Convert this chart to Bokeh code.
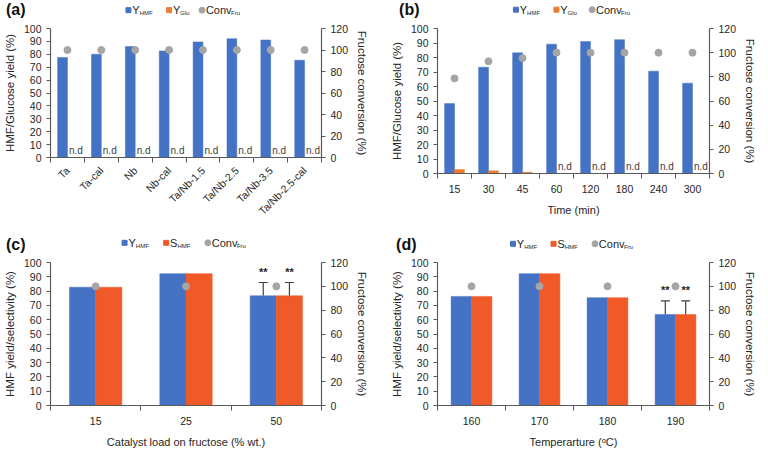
import math
from bokeh.plotting import figure
from bokeh.models import Range1d, LinearAxis, FixedTicker, Whisker, TeeHead, ColumnDataSource
from bokeh.transform import dodge
from bokeh.layouts import column, row
from bokeh.core.properties import value
from bokeh.embed import file_html
from bokeh.resources import INLINE

# ---------------- data ----------------
cats_a = ["Ta", "Ta-cal", "Nb", "Nb-cal", "Ta/Nb-1.5", "Ta/Nb-2.5", "Ta/Nb-3.5", "Ta/Nb-2.5-cal"]
yhmf_a = [77.5, 80.0, 86.0, 82.6, 89.6, 92.1, 91.1, 75.4]
yglu_a = [0, 0, 0, 0, 0, 0, 0, 0]
conv_a = [100, 100, 100, 100, 100, 100, 100, 100]

cats_b = ["15", "30", "45", "60", "120", "180", "240", "300"]
yhmf_b = [48.2, 73.3, 83.2, 89.2, 91.0, 92.3, 70.6, 62.3]
yglu_b = [2.8, 1.9, 0.9, 0, 0, 0, 0, 0]
conv_b = [78.7, 92.8, 95.5, 100, 100, 100, 100, 100]

cats_c = ["15", "25", "50"]
yhmf_c = [82.7, 92.2, 76.7]
shmf_c = [82.7, 92.2, 76.7]
err_c = [0, 0, 9.3]
conv_c = [100, 100, 100]

cats_d = ["160", "170", "180", "190"]
yhmf_d = [76.3, 92.2, 75.4, 63.6]
shmf_d = [76.3, 92.2, 75.4, 63.6]
err_d = [0, 0, 0, 9.5]
conv_d = [100, 100, 100, 100]

left_ticks = [0, 10, 20, 30, 40, 50, 60, 70, 80, 90, 100]
right_ticks = [0, 20, 40, 60, 80, 100, 120]

# ---------------- style ----------------
FONT = "Liberation Sans"
BLUE = "#4472C4"
ORANGE_B = "#ED7D31"
ORANGE_C = "#F05A28"
GRAY = "#A5A5A5"
AXIS = "#595959"
TXT = "#262626"

SX = 752 / 768
SY = 442 / 458
FIG_W = 376
FIG_H = 221
TOP_PAD = 6


def make_fig(ref_origin, ref_frame, cats, ylabel, xlabel=None, rotate=False):
    ox, oy = ref_origin
    l, r, t, b = ref_frame
    fl = round((l - ox) * SX)
    fr = round((r - ox) * SX)
    ft = round((t - oy) * SY)
    fb = round((b - oy) * SY)
    n = len(cats)
    p = figure(x_range=Range1d(0, n), y_range=Range1d(0, 100),
               frame_width=fr - fl, frame_height=fb - ft,
               min_border_left=fl, min_border_right=FIG_W - fr,
               min_border_top=TOP_PAD, min_border_bottom=FIG_H - fb,
               output_backend="svg", toolbar_location=None, tools="")
    p.extra_y_ranges = {"right": Range1d(0, 120)}
    p.xgrid.visible = False
    p.ygrid.visible = False
    p.outline_line_color = None
    p.background_fill_color = "white"
    p.border_fill_color = "white"

    centers = [i + 0.5 for i in range(n)]
    bounds = list(range(n + 1))
    xa = p.xaxis[0]
    xa.ticker = FixedTicker(ticks=centers, minor_ticks=bounds)
    xa.major_label_overrides = {c: k for c, k in zip(centers, cats)}
    xa.major_tick_out = 0
    xa.major_tick_in = 0
    xa.major_tick_line_color = None
    xa.minor_tick_out = 5
    xa.minor_tick_in = 0
    xa.minor_tick_line_color = AXIS
    xa.major_label_standoff = 6
    if rotate:
        xa.major_label_orientation = math.pi / 4
    if xlabel:
        xa.axis_label = xlabel
    xa.axis_label_standoff = 8

    ya = p.yaxis[0]
    ya.ticker = FixedTicker(ticks=left_ticks)
    ya.axis_label = ylabel

    ra = LinearAxis(y_range_name="right", ticker=FixedTicker(ticks=right_ticks),
                    axis_label="Fructose conversion (%)")
    p.add_layout(ra, "right")

    for ax in (xa, ya, ra):
        ax.axis_line_color = AXIS
        ax.axis_line_width = 1.2
        ax.major_label_text_font = FONT
        ax.major_label_text_font_size = "10.5px"
        ax.major_label_text_color = TXT
        ax.axis_label_text_font = FONT
        ax.axis_label_text_font_style = "normal"
        ax.axis_label_text_color = TXT
    xa.axis_label_text_font_size = "11px"
    for ax in (ya, ra):
        ax.axis_label_text_font_size = "11.5px"
        ax.major_tick_out = 4
        ax.major_tick_in = 0
        ax.major_tick_line_color = AXIS
        ax.minor_tick_line_color = None
    return p, (fl, fr, ft)


MAIN_W = {"Y": 7.3, "S": 7.3, "Conv": 25.7}
TITLE_W = {"(a)": 19.6, "(b)": 20.4, "(c)": 19.6, "(d)": 20.4}


def make_header(ref_origin, geom, title, title_xy, legend_items, legend_y):
    ox, oy = ref_origin
    fl, fr, ft = geom
    hh = ft - TOP_PAD

    def fx(rx):
        return (rx - ox) * SX

    def fy(ry):
        return (ry - oy) * SY

    h = figure(width=FIG_W, height=hh, x_range=Range1d(fl, fr), y_range=Range1d(hh, 0),
               min_border_left=fl, min_border_right=FIG_W - fr, min_border_top=0,
               min_border_bottom=0, x_axis_location=None, y_axis_location=None,
               output_backend="svg", toolbar_location=None, tools="")
    h.outline_line_color = None
    h.grid.visible = False
    h.background_fill_color = "white"
    h.border_fill_color = "white"

    # panel tag "(a)" etc. drawn as the single tick label of a bare left axis
    ty = round(fy(title_xy[1]))
    tag = LinearAxis(ticker=FixedTicker(ticks=[ty]), major_label_overrides={ty: title})
    tag.axis_line_color = None
    tag.major_tick_line_color = None
    tag.minor_tick_line_color = None
    tag.major_tick_out = 0
    tag.major_tick_in = 0
    tag.major_label_text_font = FONT
    tag.major_label_text_font_size = "16px"
    tag.major_label_text_font_style = "bold"
    tag.major_label_text_color = "#111111"
    tag.major_label_standoff = max(0, round(fl - (fx(title_xy[0]) + TITLE_W[title])))
    h.add_layout(tag, "left")

    for sym, color, main, sub, rx in legend_items:
        if sym == "square":
            h.scatter(x=[fx(rx + 2.5)], y=[fy(legend_y)], marker="square", size=5,
                      fill_color=color, line_color=color)
        else:
            h.scatter(x=[fx(rx + 2.5)], y=[fy(legend_y)], marker="circle", size=6,
                      fill_color=color, line_color=color)
        mx = rx + 6.5
        h.text(x=[fx(mx)], y=[fy(legend_y)], text=[main], text_font=value(FONT),
               text_font_size="11px", text_color=TXT, text_align="left", text_baseline="middle")
        h.text(x=[fx(mx + MAIN_W[main] + 0.3)], y=[fy(legend_y + 3.2)], text=[sub],
               text_font=value(FONT), text_font_size="6px", text_color=TXT,
               text_align="left", text_baseline="middle")
    return h


def add_bars(p, cats, s1, c1, s2, c2, conv, w, nd=False, err=None):
    n = len(cats)
    xs = [i + 0.5 for i in range(n)]
    src = ColumnDataSource(dict(x=xs, s1=s1, s2=s2, conv=conv))
    p.vbar(x=dodge("x", -w / 2, range=p.x_range), top="s1", width=w, bottom=0,
           source=src, fill_color=c1, line_color=c1, line_width=0.5)
    p.vbar(x=dodge("x", w / 2, range=p.x_range), top="s2", width=w, bottom=0,
           source=src, fill_color=c2, line_color=c2, line_width=0.5)
    if nd:
        nd_x = [x for x, v in zip(xs, s2) if v == 0]
        p.text(x=nd_x, y=[0] * len(nd_x), text=["n.d"] * len(nd_x),
               text_font=value(FONT), text_font_size="10px", text_color="#404040",
               text_align="left", text_baseline="bottom", x_offset=1.5, y_offset=-2)
    if err is not None:
        ex, ev, eu = [], [], []
        for x, a, bv, e in zip(xs, s1, s2, err):
            if e > 0:
                ex += [x - w / 2, x + w / 2]
                ev += [a, bv]
                eu += [a + e, bv + e]
        esrc = ColumnDataSource(dict(x=ex, v=ev, u=eu, t=["**"] * len(ex)))
        p.add_layout(Whisker(source=esrc, base="x", lower="v", upper="u", dimension="height",
                             line_color="#404040", line_width=1.2, lower_head=None,
                             upper_head=TeeHead(size=9, line_color="#404040", line_width=1.2)))
        p.text(x="x", y="u", text="t", source=esrc, text_font=value(FONT),
               text_font_size="11px", text_color="#262626", text_font_style="bold",
               text_align="center", text_baseline="bottom", y_offset=-5)
    p.scatter(x="x", y="conv", y_range_name="right", source=src, size=7,
              fill_color=GRAY, line_color=GRAY)


# panel (a)
pa, ga = make_fig((0, 0), (48, 325, 29, 163), cats_a, "HMF/Glucose yield (%)", rotate=True)
add_bars(pa, cats_a, yhmf_a, BLUE, yglu_a, ORANGE_B, conv_a, 0.29, nd=True)
ha = make_header((0, 0), ga, "(a)", (2, 9),
                 [("square", BLUE, "Y", "HMF", 126), ("square", ORANGE_B, "Y", "Glu", 168),
                  ("circle", GRAY, "Conv", "Fru", 202)], 10)

# panel (b)
pb, gb = make_fig((384, 0), (443, 721, 29, 179), cats_b, "HMF/Glucose yield (%)", xlabel="Time (min)")
add_bars(pb, cats_b, yhmf_b, BLUE, yglu_b, ORANGE_B, conv_b, 0.29, nd=True)
hb = make_header((384, 0), gb, "(b)", (404, 9),
                 [("square", BLUE, "Y", "HMF", 522), ("square", ORANGE_B, "Y", "Glu", 564),
                  ("circle", GRAY, "Conv", "Fru", 601)], 9.5)

# panel (c)
pc, gc = make_fig((0, 229), (48, 325, 268, 417), cats_c, "HMF yield/selectivity (%)",
                  xlabel="Catalyst load on fructose (% wt.)")
add_bars(pc, cats_c, yhmf_c, BLUE, shmf_c, ORANGE_C, conv_c, 0.29, err=err_c)
hc = make_header((0, 229), gc, "(c)", (2, 250),
                 [("square", BLUE, "Y", "HMF", 122), ("square", ORANGE_C, "S", "HMF", 165),
                  ("circle", GRAY, "Conv", "Fru", 208)], 248)

# panel (d)
pd_, gd = make_fig((384, 229), (443, 721, 268, 417), cats_d, "HMF yield/selectivity (%)",
                   xlabel="Temperarture (ᵒC)")
add_bars(pd_, cats_d, yhmf_d, BLUE, shmf_d, ORANGE_C, conv_d, 0.30, err=err_d)
hd = make_header((384, 229), gd, "(d)", (401, 250),
                 [("square", BLUE, "Y", "HMF", 519), ("square", ORANGE_C, "S", "HMF", 561),
                  ("circle", GRAY, "Conv", "Fru", 604)], 249)

layout = column(row(column(ha, pa), column(hb, pb)), row(column(hc, pc), column(hd, pd_)))
open("out.html", "w").write(file_html(layout, INLINE))
